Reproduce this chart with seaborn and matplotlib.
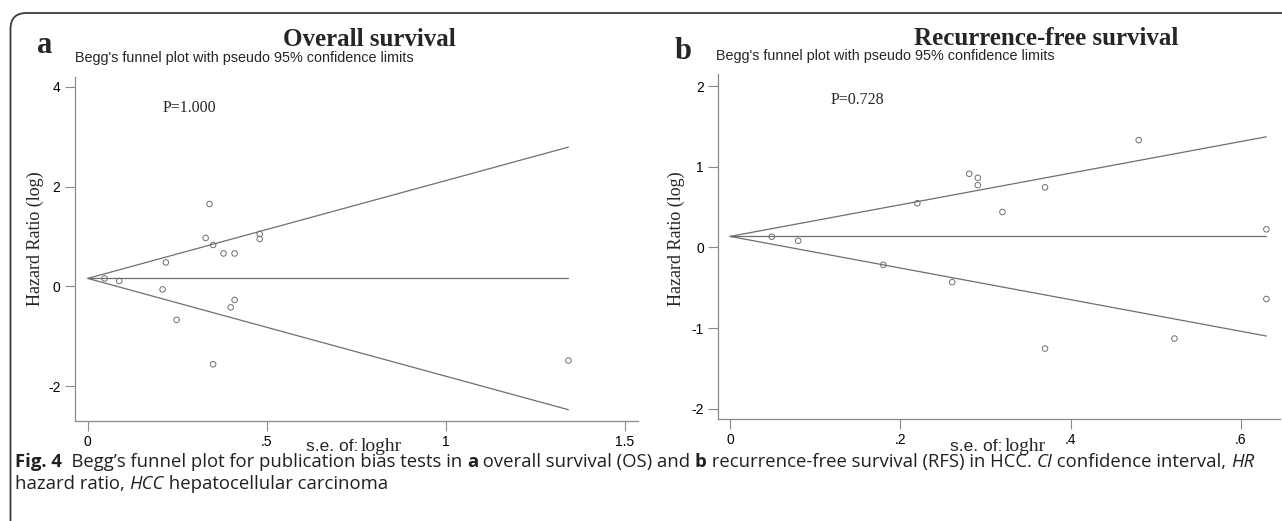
import matplotlib
matplotlib.use("Agg")
import matplotlib.pyplot as plt
import pandas as pd
import seaborn as sns
from matplotlib.patches import FancyBboxPatch
from matplotlib.font_manager import FontProperties

# Data (s.e. of log HR, log HR)
se_os = [0.047, 0.088, 0.209, 0.218, 0.248, 0.329, 0.340, 0.350, 0.350,
         0.379, 0.410, 0.399, 0.410, 0.480, 0.480, 1.342]
loghr_os = [0.16, 0.11, -0.06, 0.48, -0.67, 0.97, 1.65, 0.83, -1.56,
            0.66, 0.66, -0.42, -0.27, 1.05, 0.95, -1.485]
pooled_os = 0.16

se_rfs = [0.049, 0.080, 0.180, 0.220, 0.261, 0.281, 0.291, 0.291, 0.320,
          0.370, 0.370, 0.480, 0.522, 0.630, 0.630]
loghr_rfs = [0.133, 0.083, -0.216, 0.548, -0.43, 0.913, 0.863, 0.772, 0.44,
             0.745, -1.253, 1.33, -1.129, 0.225, -0.639]
pooled_rfs = 0.137

xticks_os = [0, 0.5, 1, 1.5]
xticklabels_os = ["0", ".5", "1", "1.5"]
yticks_os = [-2, 0, 2, 4]
xticks_rfs = [0, 0.2, 0.4, 0.6]
xticklabels_rfs = ["0", ".2", ".4", ".6"]
yticks_rfs = [-2, -1, 0, 1, 2]

sns.set_style("white")
plt.rcParams['font.family'] = ['Liberation Sans', 'DejaVu Sans']
plt.rcParams['axes.unicode_minus'] = False

W, H = 1282, 521
fig = plt.figure(figsize=(W / 100, H / 100), dpi=100)


def px(x, y):
    return x / W, 1 - y / H


def box(l, t, r, b):
    return [l / W, 1 - b / H, (r - l) / W, (b - t) / H]


GRAY = '#6e6e6e'
SERIF = ['Liberation Serif', 'DejaVu Serif']


def funnel(ax, se, lhr, pooled, xlim, ylim, xt, xtl, yt):
    df = pd.DataFrame({'se': se, 'loghr': lhr})
    smax = df['se'].max()
    ax.plot([0, smax], [pooled, pooled], color=GRAY, lw=0.9)
    ax.plot([0, smax], [pooled, pooled + 1.96 * smax], color=GRAY, lw=0.9)
    ax.plot([0, smax], [pooled, pooled - 1.96 * smax], color=GRAY, lw=0.9)
    sns.scatterplot(data=df, x='se', y='loghr', ax=ax, s=16, linewidth=0.7)
    pts = ax.collections[-1]
    pts.set_facecolor('none')
    pts.set_edgecolor(GRAY)
    ax.set_xlim(*xlim)
    ax.set_ylim(*ylim)
    ax.set_xticks(xt)
    ax.set_xticklabels(xtl)
    ax.set_yticks(yt)
    ax.set_yticklabels([str(v) for v in yt])
    ax.set_xlabel('')
    ax.set_ylabel('')
    for s in ['top', 'right']:
        ax.spines[s].set_visible(False)
    for s in ['left', 'bottom']:
        ax.spines[s].set_color('#8a8a8a')
        ax.spines[s].set_linewidth(0.9)
    ax.tick_params(direction='out', length=7, width=0.8, color='#8a8a8a',
                   labelsize=10, labelcolor='black', pad=3, left=True, bottom=True)
    ax.patch.set_alpha(0)


ax1 = fig.add_axes(box(74.5, 76.7, 638.3, 420.7))
funnel(ax1, se_os, loghr_os, pooled_os, (-0.037, 1.537), (-2.69, 4.2),
       xticks_os, xticklabels_os, yticks_os)
ax1.text(0.21, 3.5, 'P=1.000', family=SERIF, fontsize=11.5, va='baseline')

ax2 = fig.add_axes(box(717.7, 74, 1280, 419.3))
funnel(ax2, se_rfs, loghr_rfs, pooled_rfs, (-0.0145, 0.646), (-2.13, 2.15),
       xticks_rfs, xticklabels_rfs, yticks_rfs)
ax2.text(0.118, 1.78, 'P=0.728', family=SERIF, fontsize=11.5, va='baseline')

# panel headers
fig.text(*px(45, 53), 'a', family=SERIF, fontweight='bold', fontsize=22,
         ha='center', va='baseline')
fig.text(*px(683, 59), 'b', family=SERIF, fontweight='bold', fontsize=22,
         ha='center', va='baseline')
fig.text(*px(369, 46), 'Overall survival', family=SERIF, fontweight='bold',
         fontsize=18, ha='center', va='baseline')
fig.text(*px(1046, 45), 'Recurrence-free survival', family=SERIF,
         fontweight='bold', fontsize=18, ha='center', va='baseline')
sub = "Begg's funnel plot with pseudo 95% confidence limits"
fig.text(*px(74.7, 61.5), sub, fontsize=10.4, va='baseline')
fig.text(*px(715.5, 60), sub, fontsize=10.4, va='baseline')

# axis labels
for xc in (35, 676):
    fig.text(*px(xc, 239), 'Hazard Ratio (log)', family=SERIF, fontsize=13,
             rotation=90, ha='center', va='center')
for xs, xl in ((359, 361), (1002, 1005)):
    fig.text(*px(xs, 451), 's.e. of:', fontsize=12.5, ha='right', va='baseline')
    fig.text(*px(xl, 451), 'loghr', family=SERIF, fontsize=14,
             ha='left', va='baseline')

# outer frame with rounded corner
frame = FancyBboxPatch((10.5 / 100, -1.0), 14.0, (H - 13) / 100 + 1.0,
                       boxstyle='round,pad=0,rounding_size=0.16',
                       transform=fig.dpi_scale_trans, fill=False,
                       edgecolor='#3a3a3a', linewidth=1.3, clip_on=False)
fig.add_artist(frame)

# caption with mixed styles
renderer = fig.canvas.get_renderer()
CAP = ['Open Sans', 'DejaVu Sans']
cap_size = 13.3


def advance(s, weight, style):
    fp = FontProperties(family=CAP, weight=weight, style=style, size=cap_size)
    w1 = renderer.get_text_width_height_descent('I' + s + 'I', fp, ismath=False)[0]
    w0 = renderer.get_text_width_height_descent('II', fp, ismath=False)[0]
    return w1 - w0


line1 = [("Fig. 4", 'bold', 'normal'),
         ("  Begg’s funnel plot for publication bias tests in ", 'normal', 'normal'),
         ("a", 'bold', 'normal'),
         (" overall survival (OS) and ", 'normal', 'normal'),
         ("b", 'bold', 'normal'),
         (" recurrence-free survival (RFS) in HCC. ", 'normal', 'normal'),
         ("CI", 'normal', 'italic'),
         (" confidence interval, ", 'normal', 'normal'),
         ("HR", 'normal', 'italic')]
line2 = [("hazard ratio, ", 'normal', 'normal'),
         ("HCC", 'normal', 'italic'),
         (" hepatocellular carcinoma", 'normal', 'normal')]

for segs, yb in ((line1, 467), (line2, 489)):
    x = 15.0
    for s, wt, st in segs:
        fig.text(*px(x, yb), s, family=CAP, fontweight=wt, style=st,
                 fontsize=cap_size, color='#231f20', va='baseline', ha='left')
        x += advance(s, wt, st)

fig.savefig('out.png', dpi=100)
